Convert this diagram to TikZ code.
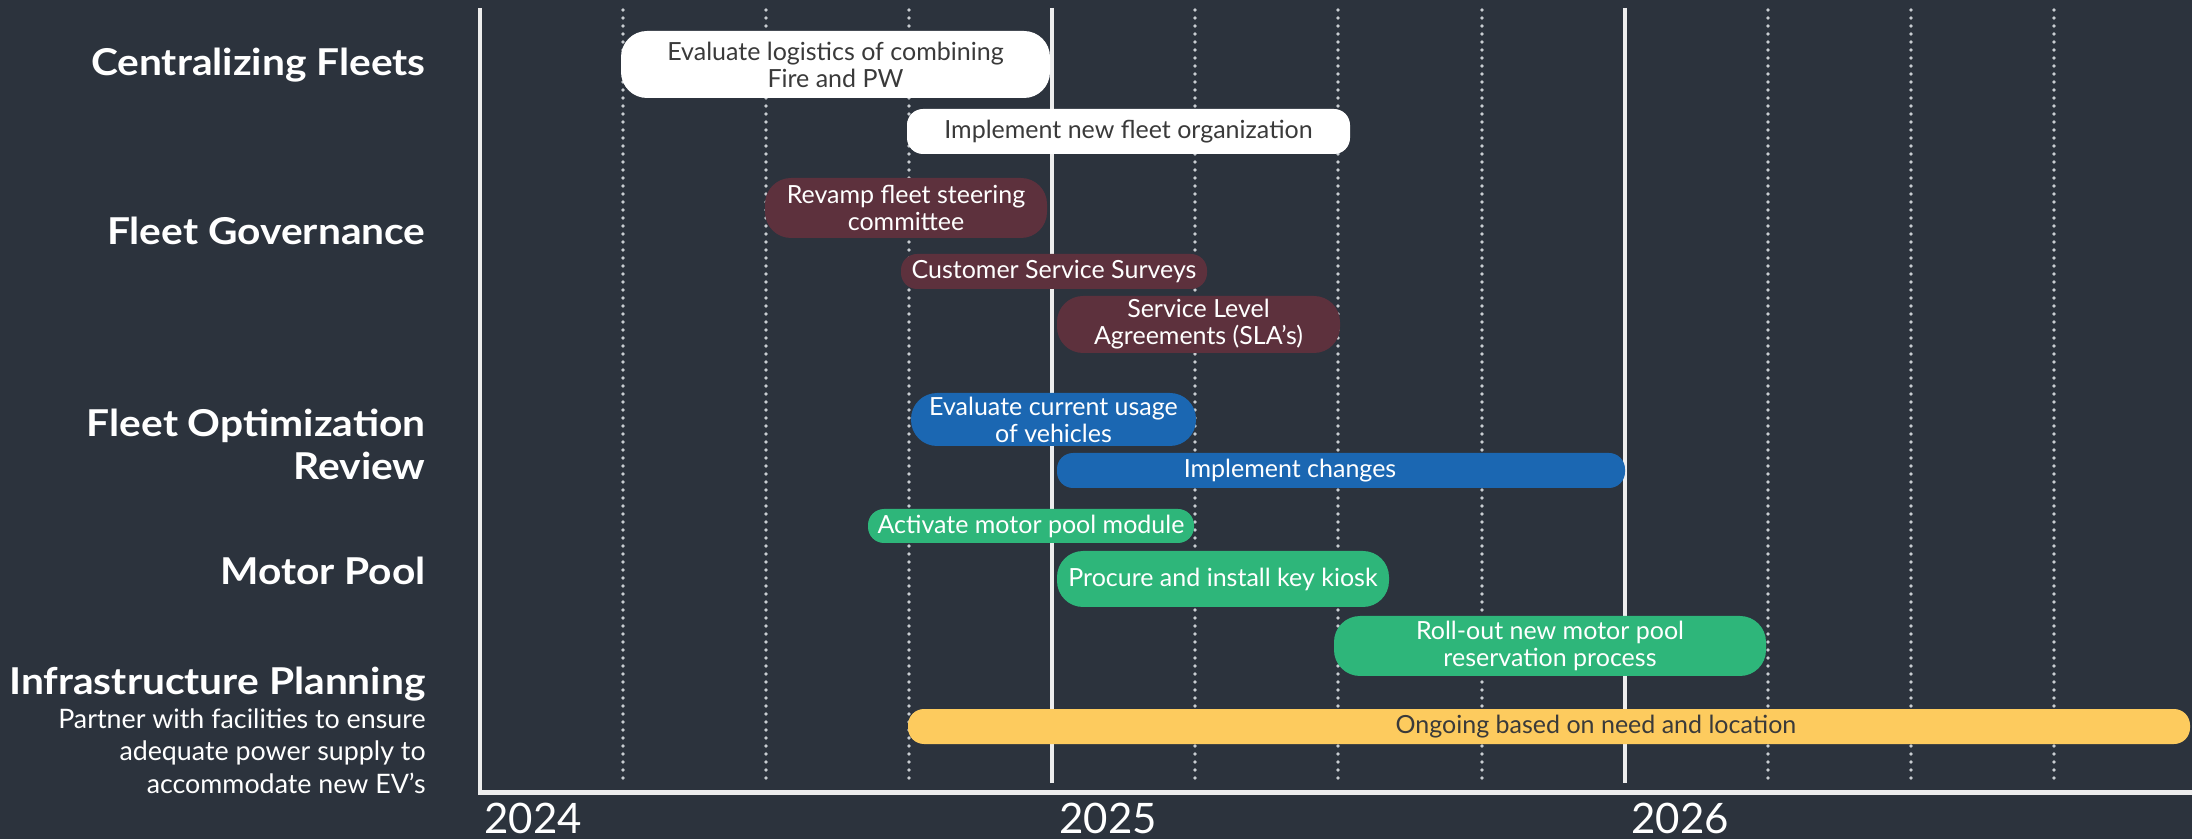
\documentclass[tikz,border=0pt]{standalone}
\usepackage{fontspec}
\setmainfont{Lato}
\newfontfamily\headfont[FakeStretch=1.1]{Lato}
\usepackage{tikz}

\definecolor{slate}{HTML}{2C333D}
\definecolor{dots}{HTML}{C9CDD2}
\definecolor{axisgray}{HTML}{EDEDED}
\definecolor{darktext}{HTML}{3A3A3A}
\definecolor{maroon}{HTML}{5D313D}
\definecolor{fleetblue}{HTML}{1B67B2}
\definecolor{poolgreen}{HTML}{2EB67A}
\definecolor{infrayellow}{HTML}{FDCB5E}

\begin{document}
\begin{tikzpicture}[x=0.5pt,y=-0.5pt]
\tikzstyle{bar} = [shape=rectangle,rounded corners=8pt,inner sep=0pt,align=center,text=white,font=\fontsize{12.5}{13.5}\selectfont]
\tikzstyle{tall} = [rounded corners=13pt]
\tikzstyle{rowlabel} = [anchor=base east,inner sep=0pt,text=white,font=\headfont\bfseries\fontsize{18.5}{22}\selectfont]
\tikzstyle{sublabel} = [anchor=base east,inner sep=0pt,text=white,font=\fontsize{13.4}{16}\selectfont]
\tikzstyle{year} = [anchor=base west,inner sep=0pt,text=white,font=\fontsize{21}{24}\selectfont]
\tikzstyle{quarter} = [dots,line width=1.8pt,line cap=round,dash pattern=on 0pt off 4pt]
\tikzstyle{yearline} = [axisgray,line width=1.8pt]

\fill[slate] (0,0) rectangle (2192,839);
\useasboundingbox (0,0) rectangle (2192,839);

% grid
\foreach \x in {623,766,909,1195,1338,1482,1768,1911,2054}
  \draw[quarter] (\x,10) -- (\x,782);
\foreach \x in {1052,1625}
  \draw[yearline] (\x,8) -- (\x,783);
\draw[axisgray,line width=2pt] (480,8) -- (480,792);
\draw[axisgray,line width=2.5pt] (478,792) -- (2192,792);

\node[year] (y24) at (484,833) {2024};
\node[year] (y25) at (1059,833) {2025};
\node[year] (y26) at (1631,833) {2026};

% row labels
\node[rowlabel] (cent) at (426,76) {Centralizing Fleets};
\node[rowlabel] (gov) at (426,245) {Fleet Governance};
\node[rowlabel] (opt) at (426,437) {Fleet Optimization};
\node[rowlabel] (rev) at (426,480) {Review};
\node[rowlabel] (pool) at (426,585) {Motor Pool};
\node[rowlabel] (infra) at (426,695) {Infrastructure Planning};
\node[sublabel] (infra1) at (426,728) {Partner with facilities to ensure};
\node[sublabel] (infra2) at (426,761) {adequate power supply to};
\node[sublabel] (infra3) at (426,793) {accommodate new EV’s};

% centralizing fleets
\node[bar,tall,fill=white,text=darktext,minimum width=214.5pt,minimum height=33.5pt] (eval) at (835.5,64.5) {Evaluate logistics of combining\\Fire and PW};
\node[bar,fill=white,text=darktext,minimum width=221.5pt,minimum height=22.5pt] (impl) at (1128.5,131.5) {Implement new fleet organization};

% governance
\node[bar,tall,fill=maroon,minimum width=141pt,minimum height=30pt] (revamp) at (906,208) {Revamp fleet steering\\committee};
\node[bar,fill=maroon,minimum width=153pt,minimum height=17.5pt] (survey) at (1054,271.5) {Customer Service Surveys};
\node[bar,tall,fill=maroon,minimum width=141.5pt,minimum height=28.5pt] (sla) at (1198.5,324.5) {Service Level\\Agreements (SLA’s)};

% optimization
\node[bar,tall,fill=fleetblue,minimum width=142.5pt,minimum height=26.5pt] (usage) at (1053.5,419.5) {Evaluate current usage\\of vehicles};
\node[bar,fill=fleetblue,minimum width=284pt,minimum height=17.5pt] (change) at (1341,470.5) {};
\node[bar] (changetxt) at (1290,470.5) {Implement changes};

% motor pool
\node[bar,fill=poolgreen,minimum width=163pt,minimum height=17pt] (module) at (1031,526) {Activate motor pool module};
\node[bar,tall,fill=poolgreen,minimum width=166pt,minimum height=28pt] (kiosk) at (1223,579) {Procure and install key kiosk};
\node[bar,tall,fill=poolgreen,minimum width=216pt,minimum height=30pt] (rollout) at (1550,646) {Roll-out new motor pool\\reservation process};

% infrastructure
\node[bar,fill=infrayellow,minimum width=641pt,minimum height=17.5pt] (ongoing) at (1549,726.5) {};
\node[bar,text=darktext] (ongoingtxt) at (1596,726.5) {Ongoing based on need and location};
\end{tikzpicture}
\end{document}
